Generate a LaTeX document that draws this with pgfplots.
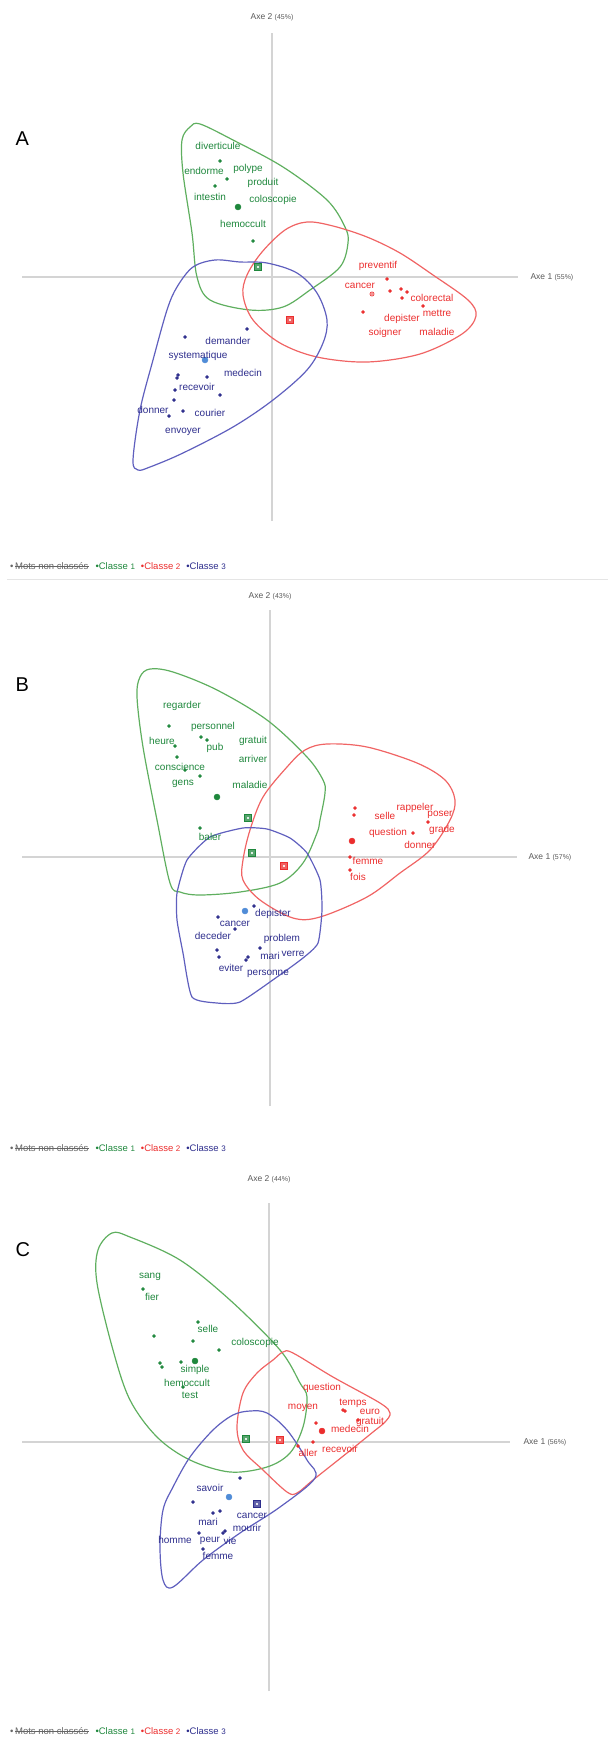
\documentclass[border=0pt]{standalone}
\usepackage{pgfplots}
\pgfplotsset{compat=1.18}
\usepackage{fontspec}
\setmainfont{Liberation Sans}

\definecolor{gtxt}{RGB}{30,135,60}
\definecolor{ghull}{RGB}{95,175,95}
\definecolor{rtxt}{RGB}{235,45,45}
\definecolor{rhull}{RGB}{240,100,100}
\definecolor{btxt}{RGB}{45,45,140}
\definecolor{bhull}{RGB}{95,95,190}
\definecolor{lblue}{RGB}{80,140,215}
\definecolor{axgray}{RGB}{212,212,212}

\pgfplotsset{
  acp/.style={scale only axis, axis lines=middle,
    axis line style={-, draw=axgray, line width=1.2pt},
    xtick=\empty, ytick=\empty, clip=false, anchor=south west},
  hull/.style={draw=#1, line width=1.2pt, smooth cycle, tension=0.55, mark=none},
  pts/.style={only marks, mark=*, mark size=1.5pt, color=#1},
  big/.style={only marks, mark=*, mark size=3pt, color=#1},
  ctr/.style={only marks, mark=square*, mark size=3.6pt,
    mark options={draw=#1, fill=#1!75}},
  ctrdot/.style={only marks, mark=*, mark size=0.8pt, mark options={fill=white, draw=white}},
  words/.style={only marks, mark=none, nodes near coords, point meta=explicit symbolic,
    nodes near coords style={anchor=center, inner sep=0pt, text=#1,
      font=\fontsize{10}{12}\selectfont}},
}
\newsavebox\strikebox
\newcommand{\strike}[1]{\sbox\strikebox{#1}\rlap{\usebox\strikebox}\rule[0.3em]{\wd\strikebox}{0.6pt}}
\newcommand{\axlab}[1]{\fontsize{8.5}{10}\selectfont\color{black!65}#1}
\newcommand{\legendline}{%
  {\color{black!60}\textbullet\,\strike{Mots non classés}}\hspace{7pt}%
  {\color{gtxt}\textbullet Classe {\footnotesize 1}}\hspace{6pt}%
  {\color{rtxt}\textbullet Classe {\footnotesize 2}}\hspace{6pt}%
  {\color{btxt}\textbullet Classe {\footnotesize 3}}}

\begin{document}
\begin{tikzpicture}
\path[use as bounding box] (0,0) rectangle (608pt,-1739pt);

% ---------------- A ----------------
\begin{axis}[acp, at={(22pt,-521pt)}, width=496pt, height=488pt,
  xmin=-2.50, xmax=2.46, ymin=-2.44, ymax=2.44]
\addplot[hull=ghull] table {
x y
-0.72 1.53
-0.39 1.37
0.11 1.10
0.55 0.77
0.73 0.50
0.76 0.34
0.68 0.10
0.38 -0.13
0.11 -0.30
-0.22 -0.33
-0.62 -0.23
-0.75 0.00
-0.80 0.44
-0.89 1.04
-0.90 1.37
-0.82 1.50
};
\addplot[hull=rhull] table {
x y
0.35 0.55
0.61 0.51
0.95 0.40
1.28 0.24
1.61 0.02
1.96 -0.23
2.04 -0.39
1.90 -0.57
1.48 -0.77
0.95 -0.85
0.45 -0.80
0.08 -0.66
-0.19 -0.43
-0.29 -0.18
-0.25 0.02
-0.10 0.25
0.13 0.47
};
\addplot[hull=bhull] table {
x y
-0.32 0.15
-0.05 0.14
0.25 0.04
0.45 -0.16
0.55 -0.43
0.51 -0.66
0.35 -0.93
0.01 -1.23
-0.39 -1.50
-0.89 -1.76
-1.22 -1.90
-1.34 -1.93
-1.39 -1.83
-1.32 -1.33
-1.19 -0.83
-1.05 -0.33
-0.95 -0.10
-0.79 0.10
-0.57 0.17
};
\addplot[pts=gtxt] table {
x y
-0.52 1.16
-0.45 0.98
-0.57 0.91
-0.19 0.36
};
\addplot[big=gtxt] table {
x y
-0.34 0.70
};
\addplot[pts=rtxt] table {
x y
1.15 -0.02
1.18 -0.14
1.29 -0.12
1.35 -0.15
1.30 -0.21
1.51 -0.29
0.91 -0.35
};
\addplot[only marks, mark=*, mark size=2.2pt, mark options={draw=rtxt, fill=rtxt!50}] table {
x y
1.00 -0.17
};
\addplot[pts=btxt] table {
x y
-0.25 -0.52
-0.87 -0.60
-0.94 -0.98
-0.95 -1.01
-0.65 -1.00
-0.97 -1.13
-0.52 -1.18
-0.98 -1.23
-1.03 -1.39
-0.89 -1.34
};
\addplot[big=lblue] table {
x y
-0.67 -0.83
};
\addplot[ctr=gtxt] table {
x y
-0.14 0.10
};
\addplot[ctr=rtxt] table {
x y
0.18 -0.43
};
\addplot[ctrdot] table {
x y
-0.14 0.10
0.18 -0.43
};
\addplot[words=gtxt] table[meta=label] {
x y label
-0.54 1.31 diverticule
-0.68 1.06 endorme
-0.24 1.08 polype
-0.09 0.94 produit
-0.62 0.80 intestin
0.01 0.77 coloscopie
-0.29 0.53 hemoccult
};
\addplot[words=rtxt] table[meta=label] {
x y label
1.06 0.11 preventif
0.88 -0.09 cancer
1.60 -0.21 colorectal
1.65 -0.36 mettre
1.30 -0.42 depister
1.13 -0.56 soigner
1.65 -0.55 maladie
};
\addplot[words=btxt] table[meta=label] {
x y label
-0.44 -0.64 demander
-0.74 -0.79 systematique
-0.29 -0.96 medecin
-0.75 -1.10 recevoir
-1.19 -1.33 donner
-0.62 -1.36 courier
-0.89 -1.55 envoyer
};
\node[anchor=west] at (axis cs:2.55,0) {\axlab{Axe 1 {\scriptsize(55\%)}}};
\node at (axis cs:0,2.60) {\axlab{Axe 2 {\scriptsize(45\%)}}};
\end{axis}

% ---------------- B ----------------
\begin{axis}[acp, at={(22pt,-1106pt)}, width=495pt, height=496pt,
  xmin=-2.48, xmax=2.47, ymin=-2.49, ymax=2.47]
\addplot[hull=ghull] table {
x y
-1.20 1.88
-0.97 1.85
-0.53 1.67
-0.03 1.37
0.37 1.00
0.53 0.77
0.55 0.64
0.50 0.37
0.47 0.24
0.33 -0.06
0.10 -0.26
-0.30 -0.35
-0.70 -0.38
-0.90 -0.35
-1.00 -0.26
-1.13 0.37
-1.27 1.10
-1.33 1.60
-1.30 1.80
};
\addplot[hull=rhull] table {
x y
0.57 1.13
0.97 1.10
1.47 0.94
1.75 0.77
1.85 0.57
1.80 0.37
1.60 0.07
1.30 -0.16
0.97 -0.40
0.50 -0.60
0.23 -0.61
-0.10 -0.43
-0.27 -0.23
-0.27 -0.03
-0.20 0.27
-0.07 0.60
0.17 0.90
0.35 1.07
};
\addplot[draw=bhull, line width=1.2pt, smooth cycle, tension=0.35, mark=none] table {
x y
-0.27 0.29
-0.03 0.28
0.20 0.19
0.37 0.04
0.50 -0.23
0.52 -0.53
0.48 -0.86
0.33 -1.01
0.07 -1.20
-0.30 -1.45
-0.53 -1.46
-0.78 -1.40
-0.87 -0.96
-0.93 -0.63
-0.93 -0.36
-0.83 -0.03
-0.60 0.20
};
\addplot[pts=gtxt] table {
x y
-1.01 1.31
-0.69 1.20
-0.63 1.17
-0.95 1.11
-0.93 1.00
-0.85 0.87
-0.70 0.81
-0.70 0.29
};
\addplot[big=gtxt] table {
x y
-0.53 0.60
};
\addplot[pts=rtxt] table {
x y
0.85 0.49
0.84 0.42
1.58 0.35
1.43 0.24
0.80 0.00
0.80 -0.13
};
\addplot[big=rtxt] table {
x y
0.82 0.16
};
\addplot[pts=btxt] table {
x y
-0.16 -0.49
-0.52 -0.60
-0.35 -0.72
-0.53 -0.93
-0.51 -1.00
-0.10 -0.91
-0.22 -1.00
-0.24 -1.03
};
\addplot[big=lblue] table {
x y
-0.25 -0.54
};
\addplot[ctr=gtxt] table {
x y
-0.22 0.39
-0.18 0.04
};
\addplot[ctr=rtxt] table {
x y
0.14 -0.09
};
\addplot[ctrdot] table {
x y
-0.22 0.39
-0.18 0.04
0.14 -0.09
};
\addplot[words=gtxt] table[meta=label] {
x y label
-0.88 1.51 regarder
-0.57 1.30 personnel
-1.08 1.16 heure
-0.17 1.16 gratuit
-0.55 1.09 pub
-0.17 0.98 arriver
-0.90 0.90 conscience
-0.87 0.73 gens
-0.20 0.72 maladie
-0.60 0.20 baler
};
\addplot[words=rtxt] table[meta=label] {
x y label
1.15 0.41 selle
1.45 0.49 rappeler
1.70 0.42 poser
1.18 0.24 question
1.72 0.27 grade
1.50 0.12 donner
0.98 -0.04 femme
0.88 -0.20 fois
};
\addplot[words=btxt] table[meta=label] {
x y label
0.03 -0.57 depister
-0.35 -0.67 cancer
-0.57 -0.79 deceder
0.12 -0.82 problem
0.00 -0.99 mari
0.23 -0.97 verre
-0.39 -1.11 eviter
-0.02 -1.17 personne
};
\node[anchor=west] at (axis cs:2.55,0) {\axlab{Axe 1 {\scriptsize(57\%)}}};
\node at (axis cs:0,2.61) {\axlab{Axe 2 {\scriptsize(43\%)}}};
\end{axis}

% ---------------- C ----------------
\begin{axis}[acp, at={(22pt,-1691pt)}, width=488pt, height=488pt,
  xmin=-2.47, xmax=2.41, ymin=-2.49, ymax=2.39]
\addplot[hull=ghull] table {
x y
-1.57 2.09
-1.39 2.05
-0.89 1.82
-0.39 1.42
0.11 0.92
0.31 0.59
0.38 0.45
0.34 0.15
0.21 -0.11
-0.02 -0.25
-0.39 -0.30
-0.79 -0.18
-1.12 0.05
-1.39 0.42
-1.56 0.92
-1.72 1.59
-1.71 1.92
};
\addplot[hull=rhull] table {
x y
0.04 0.82
0.14 0.90
0.24 0.89
0.64 0.65
1.11 0.39
1.21 0.29
1.16 0.20
1.04 0.10
0.78 -0.11
0.44 -0.38
0.28 -0.51
0.18 -0.50
-0.06 -0.28
-0.26 -0.08
-0.32 0.15
-0.26 0.49
-0.12 0.69
};
\addplot[hull=bhull] table {
x y
-0.19 0.31
-0.02 0.29
0.18 0.12
0.38 -0.18
0.46 -0.36
0.11 -0.65
-0.29 -0.91
-0.66 -1.18
-0.96 -1.45
-1.06 -1.38
-1.09 -1.05
-1.06 -0.68
-0.96 -0.45
-0.79 -0.15
-0.56 0.12
-0.36 0.27
};
\addplot[pts=gtxt] table {
x y
-1.26 1.53
-0.71 1.20
-1.15 1.06
-0.76 1.01
-0.50 0.92
-1.09 0.79
-1.07 0.75
-0.88 0.80
-0.86 0.55
};
\addplot[big=gtxt] table {
x y
-0.74 0.81
};
\addplot[pts=rtxt] table {
x y
0.74 0.32
0.76 0.31
0.89 0.22
0.47 0.19
0.44 0.00
0.29 -0.04
};
\addplot[big=rtxt] table {
x y
0.53 0.11
};
\addplot[pts=btxt] table {
x y
-0.29 -0.36
-0.76 -0.60
-0.49 -0.69
-0.56 -0.71
-0.44 -0.89
-0.46 -0.91
-0.70 -0.91
-0.66 -1.07
};
\addplot[big=lblue] table {
x y
-0.40 -0.55
};
\addplot[ctr=gtxt] table {
x y
-0.23 0.03
};
\addplot[ctr=rtxt] table {
x y
0.11 0.02
};
\addplot[ctr=btxt] table {
x y
-0.12 -0.62
};
\addplot[ctrdot] table {
x y
-0.23 0.03
0.11 0.02
-0.12 -0.62
};
\addplot[words=gtxt] table[meta=label] {
x y label
-1.19 1.65 sang
-1.17 1.45 fier
-0.61 1.13 selle
-0.14 0.99 coloscopie
-0.74 0.72 simple
-0.82 0.59 hemoccult
-0.79 0.47 test
};
\addplot[words=rtxt] table[meta=label] {
x y label
0.53 0.54 question
0.34 0.34 moyen
0.84 0.39 temps
1.01 0.30 euro
1.01 0.20 gratuit
0.81 0.13 medecin
0.39 -0.11 aller
0.71 -0.07 recevoir
};
\addplot[words=btxt] table[meta=label] {
x y label
-0.59 -0.46 savoir
-0.17 -0.74 cancer
-0.61 -0.80 mari
-0.22 -0.86 mourir
-0.94 -0.98 homme
-0.59 -0.99 peur
-0.39 -0.99 vie
-0.51 -1.14 femme
};
\node[anchor=west] at (axis cs:2.51,0) {\axlab{Axe 1 {\scriptsize(56\%)}}};
\node at (axis cs:0,2.63) {\axlab{Axe 2 {\scriptsize(44\%)}}};
\end{axis}

% panel letters, legends, separator
\node[anchor=west, font=\fontsize{20}{22}\selectfont] at (12pt,-139pt) {A};
\node[anchor=west, font=\fontsize{20}{22}\selectfont] at (12pt,-685pt) {B};
\node[anchor=west, font=\fontsize{20}{22}\selectfont] at (12pt,-1250pt) {C};
\node[anchor=west, inner sep=0pt, font=\fontsize{9.5}{11}\selectfont] at (10pt,-566pt) {\legendline};
\node[anchor=west, inner sep=0pt, font=\fontsize{9.5}{11}\selectfont] at (10pt,-1148pt) {\legendline};
\node[anchor=west, inner sep=0pt, font=\fontsize{9.5}{11}\selectfont] at (10pt,-1731pt) {\legendline};
\draw[black!10, line width=0.8pt] (7pt,-579pt) -- (608pt,-579pt);
\end{tikzpicture}
\end{document}
